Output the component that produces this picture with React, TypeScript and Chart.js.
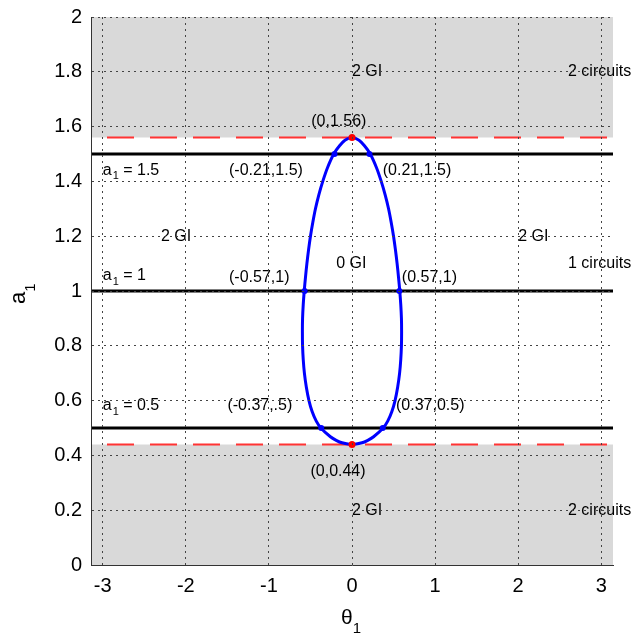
import { useEffect, useRef } from "react";
import { Chart, registerables } from "chart.js";

Chart.register(...registerables);

const PI = Math.PI;
const FONT = "'Liberation Sans', Arial, Helvetica, sans-serif";

// axis ticks
const xTicks = [-3, -2, -1, 0, 1, 2, 3];
const yTicks = [0, 0.2, 0.4, 0.6, 0.8, 1, 1.2, 1.4, 1.6, 1.8, 2];

// closed boundary curve (theta_1, a_1); small overlap at the ends for smooth closure
const curveTheta = [
  -0.12, 0, 0.12, 0.19, 0.26, 0.375, 0.43, 0.48, 0.518, 0.55, 0.573, 0.587, 0.595, 0.597, 0.595, 0.587, 0.575,
  0.56, 0.543, 0.523, 0.5, 0.472, 0.44, 0.4, 0.352, 0.295, 0.22, 0.15, 0.085, 0,
  -0.085, -0.15, -0.22, -0.295, -0.352, -0.4, -0.44, -0.472, -0.5, -0.523, -0.543, -0.56,
  -0.575, -0.587, -0.595, -0.597, -0.595, -0.587, -0.573, -0.55, -0.518, -0.48, -0.43, -0.375, -0.26, -0.19,
  -0.12, 0, 0.12,
];
const curveA = [
  0.446, 0.44, 0.446, 0.455, 0.468, 0.5, 0.525, 0.56, 0.6, 0.65, 0.7, 0.75, 0.8, 0.85, 0.9, 0.95, 1.0,
  1.05, 1.1, 1.15, 1.2, 1.25, 1.3, 1.35, 1.4, 1.45, 1.5, 1.53, 1.55, 1.56,
  1.55, 1.53, 1.5, 1.45, 1.4, 1.35, 1.3, 1.25, 1.2, 1.15, 1.1, 1.05,
  1.0, 0.95, 0.9, 0.85, 0.8, 0.75, 0.7, 0.65, 0.6, 0.56, 0.525, 0.5, 0.468, 0.455,
  0.446, 0.44, 0.446,
];

// horizontal levels
const levelA = [0.5, 1, 1.5];
const boundaryA = [0.44, 1.56];

// intersection points
const crossTheta = [-0.21, 0.21, -0.57, 0.57, -0.37, 0.37];
const crossA = [1.5, 1.5, 1, 1, 0.5, 0.5];
const extremeTheta = [0, 0];
const extremeA = [1.56, 0.44];

// text annotations
const labelTexts = [
  "2 GI", "2 circuits", "2 GI", "2 GI", "0 GI", "1 circuits", "2 GI", "2 circuits",
  "(0,1.56)", "(-0.21,1.5)", "(0.21,1.5)", "(-0.57,1)", "(0.57,1)", "(-0.37,.5)", "(0.37,0.5)", "(0,0.44)",
];
const labelTheta = [0.0, 2.6, -2.3, 2.0, -0.19, 2.6, 0.0, 2.6, -0.49, -1.48, 0.37, -1.48, 0.6, -1.5, 0.53, -0.5];
const labelA = [1.8, 1.8, 1.2, 1.2, 1.1, 1.1, 0.2, 0.2, 1.62, 1.44, 1.44, 1.05, 1.05, 0.58, 0.58, 0.34];

const levelLabelTexts = ["= 1.5", "= 1", "= 0.5"];
const levelLabelTheta = [-3.0, -3.0, -3.0];
const levelLabelA = [1.44, 1.055, 0.58];

export default function App() {
  const ref = useRef<HTMLCanvasElement | null>(null);

  useEffect(() => {
    if (!ref.current) return;

    const hline = (a: number) => [
      { x: -PI, y: a },
      { x: PI, y: a },
    ];

    const textPlugin = {
      id: "texts",
      afterDatasetsDraw(chart: any) {
        const { ctx } = chart;
        const xs = chart.scales.x;
        const ys = chart.scales.y;
        ctx.save();
        ctx.fillStyle = "#000";
        ctx.textAlign = "left";
        ctx.textBaseline = "middle";
        ctx.font = `16px ${FONT}`;
        labelTexts.forEach((t, i) => {
          ctx.fillText(t, xs.getPixelForValue(labelTheta[i]), ys.getPixelForValue(labelA[i]));
        });
        levelLabelTexts.forEach((t, i) => {
          let px = xs.getPixelForValue(levelLabelTheta[i]);
          const py = ys.getPixelForValue(levelLabelA[i]);
          ctx.font = `16px ${FONT}`;
          ctx.fillText("a", px, py);
          px += ctx.measureText("a").width + 1;
          ctx.font = `11px ${FONT}`;
          ctx.fillText("1", px, py + 6);
          px += ctx.measureText("1").width;
          ctx.font = `16px ${FONT}`;
          ctx.fillText(" " + t, px, py);
        });
        ctx.restore();
      },
      afterDraw(chart: any) {
        const { ctx } = chart;
        ctx.save();
        ctx.fillStyle = "#000";
        ctx.textBaseline = "alphabetic";
        ctx.textAlign = "left";
        // x title theta_1
        ctx.font = `21px ${FONT}`;
        const tw = ctx.measureText("θ").width;
        ctx.fillText("θ", 341, 624);
        ctx.font = `15px ${FONT}`;
        ctx.fillText("1", 341 + tw, 633);
        // y title a_1 (rotated)
        ctx.translate(25, 304);
        ctx.rotate(-Math.PI / 2);
        ctx.font = `22px ${FONT}`;
        const aw = ctx.measureText("a").width;
        ctx.fillText("a", 0, 0);
        ctx.font = `15px ${FONT}`;
        ctx.fillText("1", aw, 10);
        ctx.restore();
      },
    };

    const chart = new Chart(ref.current, {
      type: "scatter",
      data: {
        datasets: [
          {
            data: extremeTheta.map((x, i) => ({ x, y: extremeA[i] })),
            pointRadius: 3.5,
            pointBackgroundColor: "#ff0000",
            pointBorderColor: "#ff0000",
            pointBorderWidth: 0,
            showLine: false,
          },
          {
            data: crossTheta.map((x, i) => ({ x, y: crossA[i] })),
            pointRadius: 3,
            pointBackgroundColor: "#0000ff",
            pointBorderColor: "#0000ff",
            pointBorderWidth: 0,
            showLine: false,
          },
          {
            data: curveTheta.map((x, i) => ({ x, y: curveA[i] })),
            showLine: true,
            borderColor: "#0000ff",
            borderWidth: 3,
            pointRadius: 0,
            tension: 0.3,
            fill: false,
          },
          ...boundaryA.map((a) => ({
            data: hline(a),
            showLine: true,
            borderColor: "#ff3333",
            borderWidth: 2,
            borderDash: [27, 16],
            borderDashOffset: 27,
            pointRadius: 0,
            fill: false,
          })),
          ...levelA.map((a) => ({
            data: hline(a),
            showLine: true,
            borderColor: "#000000",
            borderWidth: 3,
            pointRadius: 0,
            fill: false,
          })),
          {
            data: hline(boundaryA[1]),
            showLine: true,
            borderWidth: 0,
            borderColor: "rgba(0,0,0,0)",
            backgroundColor: "#d9d9d9",
            pointRadius: 0,
            fill: "end",
          },
          {
            data: hline(boundaryA[0]),
            showLine: true,
            borderWidth: 0,
            borderColor: "rgba(0,0,0,0)",
            backgroundColor: "#d9d9d9",
            pointRadius: 0,
            fill: "start",
          },
        ] as any,
      },
      options: {
        responsive: false,
        animation: false,
        events: [],
        layout: { padding: { top: 17, right: 23, left: 0, bottom: 0 } },
        plugins: { legend: { display: false }, tooltip: { enabled: false } },
        scales: {
          x: {
            type: "linear",
            min: -PI,
            max: PI,
            afterBuildTicks: (s: any) => {
              s.ticks = xTicks.map((v) => ({ value: v }));
            },
            afterFit: (s: any) => {
              s.height = 72;
              s.paddingLeft = 0;
              s.paddingRight = 0;
            },
            ticks: {
              color: "#000",
              font: { family: FONT, size: 20 },
              padding: 9,
              maxRotation: 0,
              autoSkip: false,
              callback: (v: any) => String(v),
            },
            grid: { color: "#444", lineWidth: 1, drawTicks: false, z: 1 } as any,
            border: { display: true, color: "#333", width: 1, dash: [2, 4], z: 2 } as any,
          },
          y: {
            type: "linear",
            min: 0,
            max: 2,
            afterBuildTicks: (s: any) => {
              s.ticks = yTicks.map((v) => ({ value: v }));
            },
            afterFit: (s: any) => {
              s.width = 91;
              s.paddingTop = 0;
              s.paddingBottom = 0;
            },
            ticks: {
              color: "#000",
              font: { family: FONT, size: 20 },
              padding: 9,
              autoSkip: false,
              callback: (v: any) => String(v),
            },
            grid: { color: "#444", lineWidth: 1, drawTicks: false, z: 1 } as any,
            border: { display: true, color: "#333", width: 1, dash: [2, 4], z: 2 } as any,
          },
        },
      },
      plugins: [textPlugin],
    });

    return () => chart.destroy();
  }, []);

  return (
    <div style={{ position: "absolute", left: 0, top: 0, width: 636, height: 637, background: "#fff" }}>
      <canvas ref={ref} width={636} height={637} style={{ display: "block" }} />
    </div>
  );
}
